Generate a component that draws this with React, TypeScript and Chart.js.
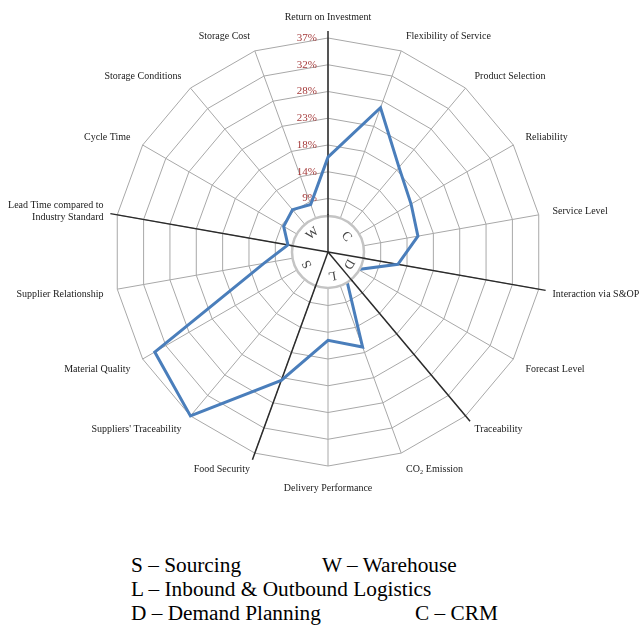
import React, { useEffect, useRef } from "react";
import { Chart, registerables } from "chart.js";

Chart.register(...registerables);

// ---------- data ----------
const categories: (string | string[])[] = [
  "Return on Investment",
  "Flexibility of Service",
  "Product Selection",
  "Reliability",
  "Service Level",
  "Interaction via S&OP",
  "Forecast Level",
  "Traceability",
  "CO₂ Emission",
  "Delivery Performance",
  "Food Security",
  "Suppliers' Traceability",
  "Material Quality",
  "Supplier Relationship",
  ["Lead Time compared to", "Industry Standard"],
  "Cycle Time",
  "Storage Conditions",
  "Storage Cost",
];

const values = [16.3, 26.4, 19.0, 16.5, 15.7, 12.2, 6.0, 4.5, 17.4, 15.2, 23.5, 36.8, 34.4, 11.2, 7.0, 8.8, 9.5, 8.7];

const tickStep = 4.6;
const tickMax = 36.8;

const sectorLetters = ["C", "D", "L", "S", "W"];
const sectorStart = [0, 5, 7, 10, 14];
const sectorEnd = [5, 7, 10, 14, 18];

const legendLines = [
  ["S – Sourcing", "W – Warehouse"],
  ["L – Inbound & Outbound Logistics"],
  ["D – Demand Planning", "C – CRM"],
];

// ---------- styles ----------
const SERIF = '"Liberation Serif", "Times New Roman", serif';
const CIRCLE_R = 36;

const overlay = {
  id: "overlay",
  beforeDatasetsDraw(chart: any) {
    const s = chart.scales.r;
    const ctx = chart.ctx;
    ctx.save();
    // dark sector separators
    ctx.strokeStyle = "#2b2b2b";
    ctx.lineWidth = 1.5;
    sectorStart.forEach((i) => {
      const p = s.getPointPosition(i, s.drawingArea + 7);
      ctx.beginPath();
      ctx.moveTo(s.xCenter, s.yCenter);
      ctx.lineTo(p.x, p.y);
      ctx.stroke();
    });
    // tick labels
    ctx.font = `11px ${SERIF}`;
    ctx.fillStyle = "#a53b3b";
    ctx.textAlign = "right";
    ctx.textBaseline = "middle";
    s.ticks.forEach((t: any, idx: number) => {
      if (idx === 0) return;
      const d = s.getDistanceFromCenterForValue(t.value);
      if (d < CIRCLE_R + 4) return;
      ctx.fillText(Math.round(t.value) + "%", s.xCenter - 11, s.yCenter - d);
    });
    ctx.restore();
  },
  afterDatasetsDraw(chart: any) {
    const s = chart.scales.r;
    const ctx = chart.ctx;
    ctx.save();
    // inner circle
    ctx.beginPath();
    ctx.arc(s.xCenter, s.yCenter, CIRCLE_R, 0, Math.PI * 2);
    ctx.fillStyle = "#ffffff";
    ctx.fill();
    ctx.strokeStyle = "#c4c4c4";
    ctx.lineWidth = 2.5;
    ctx.stroke();
    // dark lines inside the circle
    ctx.strokeStyle = "#2b2b2b";
    ctx.lineWidth = 1.5;
    sectorStart.forEach((i) => {
      const p = s.getPointPosition(i, CIRCLE_R + 2);
      ctx.beginPath();
      ctx.moveTo(s.xCenter, s.yCenter);
      ctx.lineTo(p.x, p.y);
      ctx.stroke();
    });
    // sector letters
    ctx.font = `13px ${SERIF}`;
    ctx.fillStyle = "#444";
    ctx.textAlign = "center";
    ctx.textBaseline = "middle";
    sectorLetters.forEach((l, k) => {
      const mid = (sectorStart[k] + sectorEnd[k]) / 2;
      const p = s.getPointPosition(mid, 24);
      const a = s.getIndexAngle(mid);
      ctx.save();
      ctx.translate(p.x, p.y);
      ctx.rotate(a);
      ctx.fillText(l, 0, 0);
      ctx.restore();
    });
    // point labels
    ctx.font = `10px ${SERIF}`;
    ctx.fillStyle = "#1a1a1a";
    categories.forEach((lab, i) => {
      const p = s.getPointPosition(i, s.drawingArea + 14);
      const a = s.getIndexAngle(i);
      const sn = Math.sin(a);
      const cs = Math.cos(a);
      let align: CanvasTextAlign = "center";
      let y = p.y;
      if (Math.abs(sn) < 0.05) {
        align = "center";
        y += cs > 0 ? -7 : 8;
      } else {
        align = sn > 0 ? "left" : "right";
        y += cs < 0 ? 3 : -1;
      }
      ctx.textAlign = align;
      const lines = Array.isArray(lab) ? lab : [lab];
      const lh = 12;
      lines.forEach((ln, j) => {
        ctx.fillText(ln, p.x, y + (j - (lines.length - 1) / 2) * lh);
      });
    });
    ctx.restore();
  },
};

export default function App() {
  const ref = useRef<HTMLCanvasElement | null>(null);

  useEffect(() => {
    document.body.style.margin = "0";
    if (!ref.current) return;
    const chart = new Chart(ref.current, {
      type: "radar",
      data: {
        labels: categories.map((c) => (Array.isArray(c) ? c.join(" ") : c)),
        datasets: [
          {
            data: values,
            borderColor: "#4a7ebb",
            borderWidth: 3,
            fill: false,
            pointRadius: 0,
            tension: 0,
          },
        ],
      },
      options: {
        responsive: false,
        animation: false,
        layout: { padding: { left: 114, right: 98, top: 38, bottom: 54 } },
        plugins: { legend: { display: false }, tooltip: { enabled: false } },
        scales: {
          r: {
            min: 0,
            max: tickMax,
            startAngle: 0,
            ticks: { display: false, stepSize: tickStep },
            grid: { color: "#a8a8a8", lineWidth: 1 },
            angleLines: { color: "#a8a8a8", lineWidth: 1 },
            pointLabels: { display: false },
          },
        },
      },
      plugins: [overlay],
    } as any);
    return () => chart.destroy();
  }, []);

  const legendTop = [553, 577, 601];
  const legendLeft = [[131, 322], [131], [131, 415]];

  return (
    <div style={{ position: "relative", width: 640, height: 626, overflow: "hidden" }}>
      <canvas ref={ref} width={640} height={520} style={{ position: "absolute", left: 0, top: 0 }} />
      {legendLines.map((row, r) =>
        row.map((txt, c) => (
          <span
            key={`${r}-${c}`}
            style={{
              position: "absolute",
              left: legendLeft[r][c],
              top: legendTop[r],
              fontFamily: SERIF,
              fontSize: 21.3,
              lineHeight: "24px",
              whiteSpace: "nowrap",
              color: "#000",
            }}
          >
            {txt}
          </span>
        ))
      )}
    </div>
  );
}
